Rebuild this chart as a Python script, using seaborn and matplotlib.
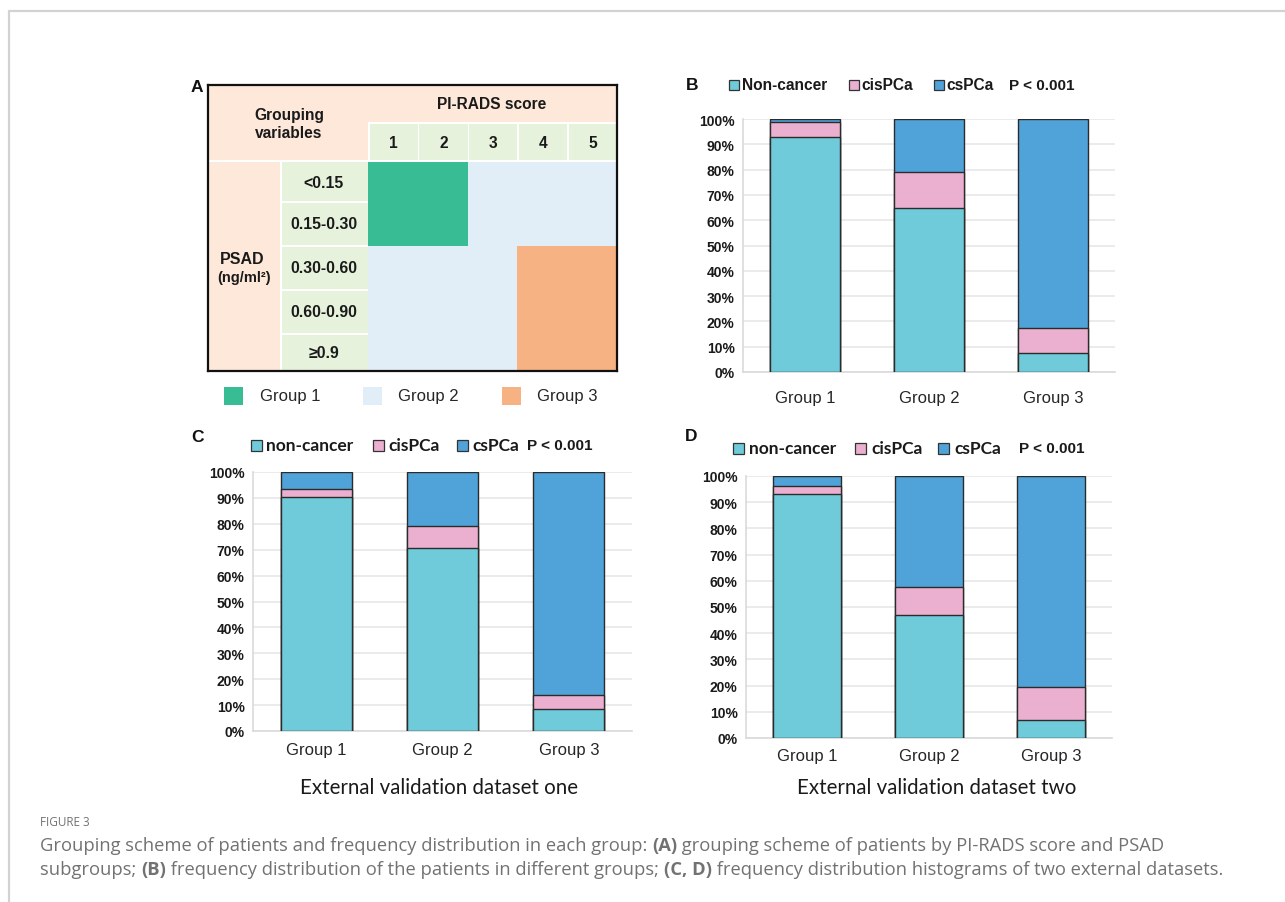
import matplotlib
matplotlib.use('Agg')
import matplotlib.pyplot as plt
from matplotlib.patches import Rectangle
from matplotlib.colors import ListedColormap
import seaborn as sns
import pandas as pd
import numpy as np

W, H = 1285, 903

groups = ['Group 1', 'Group 2', 'Group 3']
labels_b = ['Non-cancer', 'cisPCa', 'csPCa']
labels_cd = ['non-cancer', 'cisPCa', 'csPCa']

# percentage of patients per group (B: training, C/D: external sets)
b_noncancer = [93.0, 65.0, 7.5]
b_cispca = [6.0, 14.0, 10.0]
b_cspca = [1.0, 21.0, 82.5]

c_noncancer = [90.5, 70.5, 8.5]
c_cispca = [3.0, 8.5, 5.5]
c_cspca = [6.5, 21.0, 86.0]

d_noncancer = [93.0, 47.0, 7.0]
d_cispca = [3.0, 10.5, 12.5]
d_cspca = [4.0, 42.5, 80.5]

pirads = ['1', '2', '3', '4', '5']
psad_bins = ['<0.15', '0.15-0.30', '0.30-0.60', '0.60-0.90', '≥0.9']
# group for each PSAD bin (rows) and PI-RADS score (cols)
group_grid = [[1, 1, 2, 2, 2],
              [1, 1, 2, 2, 2],
              [2, 2, 2, 3, 3],
              [2, 2, 2, 3, 3],
              [2, 2, 2, 3, 3]]

TEAL, PINK, BLUE = '#6fcbd9', '#ebafcf', '#4fa3d9'
EDGE = '#2b2b2b'
G1, G2, G3 = '#38bc94', '#e2eef7', '#f6b283'
PEACH, LGREEN = '#fde8da', '#e6f2dc'
ARIAL = 'Liberation Sans'

sns.set_theme(style='white')
plt.rcParams['font.family'] = [ARIAL, 'DejaVu Sans']

fig = plt.figure(figsize=(W / 100, H / 100), dpi=100)


def px_axes(x0, y0, x1, y1, **kw):
    return fig.add_axes([x0 / W, 1 - y1 / H, (x1 - x0) / W, (y1 - y0) / H], **kw)


# page frame
canvas = px_axes(0, 0, W, H)
canvas.set_xlim(0, W)
canvas.set_ylim(H, 0)
canvas.axis('off')
canvas.plot([9, W], [12, 12], color='#d2d2d2', lw=1.6)
canvas.plot([9, 9], [12, H], color='#d2d2d2', lw=1.6)

# ---------- panel A ----------
hm = px_axes(368, 163, 617, 372)
sns.heatmap(np.array(group_grid), cmap=ListedColormap([G1, G2, G3]), vmin=0.5, vmax=3.5,
            cbar=False, ax=hm, xticklabels=False, yticklabels=False)

tab = px_axes(208, 86, 617, 372, zorder=3)
tab.set_facecolor('none')
tab.set_xlim(208, 617)
tab.set_ylim(372, 86)
tab.set_xticks([])
tab.set_yticks([])
for sp in tab.spines.values():
    sp.set_color('#111111')
    sp.set_linewidth(1.6)

tab.add_patch(Rectangle((208, 86), 160, 75, color=PEACH, lw=0))
tab.add_patch(Rectangle((368, 86), 249, 37, color=PEACH, lw=0))
tab.text(289, 124, 'Grouping\nvariables', ha='center', va='center', fontsize=11.2,
         fontweight='bold', linespacing=1.25, color='#1a1a1a')
tab.text(492, 104, 'PI-RADS score', ha='center', va='center', fontsize=11.2,
         fontweight='bold', color='#1a1a1a')
cw = 249 / len(pirads)
for i, s in enumerate(pirads):
    x0 = 368 + i * cw
    tab.add_patch(Rectangle((x0 + 1.5, 124.5), cw - 1.5, 36.5, color=LGREEN, lw=0))
    tab.text(x0 + cw / 2 + 0.7, 143, s, ha='center', va='center', fontsize=11.2,
             fontweight='bold', color='#1a1a1a')

tab.add_patch(Rectangle((208, 163), 72, 209, color=PEACH, lw=0))
tab.text(242, 260, 'PSAD', ha='center', va='center', fontsize=11.5, fontweight='bold', color='#1a1a1a')
tab.text(244, 278, '(ng/ml²)', ha='center', va='center', fontsize=10.5, fontweight='bold', color='#1a1a1a')
rows = [163, 202, 246, 290, 334, 372]
for i, s in enumerate(psad_bins):
    y0 = rows[i] + (0 if i == 0 else 1.5)
    tab.add_patch(Rectangle((281.5, y0), 86.5, rows[i + 1] - y0, color=LGREEN, lw=0))
    tab.text(324, (rows[i] + rows[i + 1]) / 2 + 0.5, s, ha='center', va='center',
             fontsize=11.4, fontweight='bold', color='#1a1a1a')

for (sx, tx), lab, col in zip([(224, 260), (363, 398), (502, 537)], groups, [G1, G2, G3]):
    canvas.add_patch(Rectangle((sx, 388), 19, 18, color=col, lw=0))
    canvas.text(tx, 397, lab, ha='left', va='center', fontsize=12, color='#262626')


# ---------- stacked bars ----------
def stacked(ax, non, cis, cs, xpad):
    df = pd.DataFrame({'group': groups, 'non': non, 'cis': cis, 'cs': cs})
    df['mid'] = df['non'] + df['cis']
    df['top'] = df['mid'] + df['cs']
    for col, color in [('top', BLUE), ('mid', PINK), ('non', TEAL)]:
        sns.barplot(data=df, x='group', y=col, color=color, width=0.56, saturation=1,
                    edgecolor=EDGE, linewidth=1.0, errorbar=None, ax=ax, zorder=3)
    ax.set_xlim(-0.5, 2.5)
    ax.set_ylim(0, 100)
    ax.set_yticks(range(0, 101, 10))
    ax.set_yticklabels([f'{v}%' for v in range(0, 101, 10)], fontsize=10,
                       fontweight='bold', color='#1a1a1a')
    ax.set_xticks(range(3))
    ax.set_xticklabels(groups, fontsize=12, color='#262626')
    ax.set_xlabel('')
    ax.set_ylabel('')
    ax.yaxis.grid(True, color='#e8e8e8', lw=1.2, zorder=0)
    ax.set_axisbelow(True)
    for s in ['top', 'right']:
        ax.spines[s].set_visible(False)
    for s in ['left', 'bottom']:
        ax.spines[s].set_color('#dadada')
        ax.spines[s].set_linewidth(1.2)
    ax.tick_params(axis='y', length=3, color='#e8e8e8', width=1.2, pad=3)
    ax.tick_params(axis='x', length=0, pad=xpad)


def legend_row(y, items, labels, sq, family, fsize):
    for (sx, tx), lab, col in zip(items, labels, [TEAL, PINK, BLUE]):
        canvas.add_patch(Rectangle((sx, y - sq / 2), sq, sq, facecolor=col,
                                   edgecolor='#333333', lw=0.9))
        canvas.text(tx, y, lab, ha='left', va='center', fontsize=fsize,
                    fontweight='bold', family=family, color='#1a1a1a')


axb = px_axes(743, 120, 1115, 373)
stacked(axb, b_noncancer, b_cispca, b_cspca, 13)
axc = px_axes(253, 473, 632, 732)
stacked(axc, c_noncancer, c_cispca, c_cspca, 8)
axd = px_axes(746, 477, 1112, 739)
stacked(axd, d_noncancer, d_cispca, d_cspca, 7)

legend_row(86, [(729, 742), (849, 861), (934, 946)], labels_b, 10, ARIAL, 11.2)
canvas.text(1009, 86, 'P < 0.001', ha='left', va='center', fontsize=11, fontweight='bold', color='#1a1a1a')
legend_row(446, [(251, 266), (373, 388), (457, 472)], labels_cd, 11, 'Lato', 12.5)
canvas.text(527, 446, 'P < 0.001', ha='left', va='center', fontsize=11, fontweight='bold', color='#1a1a1a')
legend_row(449, [(733, 749), (855, 871), (938, 954)], labels_cd, 11, 'Lato', 12.5)
canvas.text(1019, 449, 'P < 0.001', ha='left', va='center', fontsize=11, fontweight='bold', color='#1a1a1a')

canvas.text(439, 788, 'External validation dataset one', ha='center', va='center',
            fontsize=14.8, family='Lato', color='#1a1a1a')
canvas.text(937, 788, 'External validation dataset two', ha='center', va='center',
            fontsize=14.8, family='Lato', color='#1a1a1a')

for x, y, s in [(197, 87, 'A'), (692, 86, 'B'), (197, 438, 'C'), (691, 437, 'D')]:
    canvas.text(x, y, s, ha='center', va='center', fontsize=12.5, fontweight='bold', color='#111111')

# ---------- caption ----------
CAP = dict(family='Open Sans', color='#727272', fontsize=13.2)
canvas.text(40, 823, 'FIGURE 3', ha='left', va='center', family='Open Sans', color='#727272', fontsize=8.5)

renderer = fig.canvas.get_renderer()


def runs(x, y, parts):
    for s, w in parts:
        t = canvas.text(x, y, s, ha='left', va='baseline', fontweight=w, **CAP)
        bb = t.get_window_extent(renderer=renderer)
        x += bb.width


runs(40, 851, [('Grouping scheme of patients and frequency distribution in each group: ', 'normal'),
               ('(A)', 'bold'),
               (' grouping scheme of patients by PI-RADS score and PSAD', 'normal')])
runs(40, 875, [('subgroups; ', 'normal'), ('(B)', 'bold'),
               (' frequency distribution of the patients in different groups; ', 'normal'),
               ('(C, D)', 'bold'),
               (' frequency distribution histograms of two external datasets.', 'normal')])

fig.savefig('out.png', dpi=100, facecolor='white')
